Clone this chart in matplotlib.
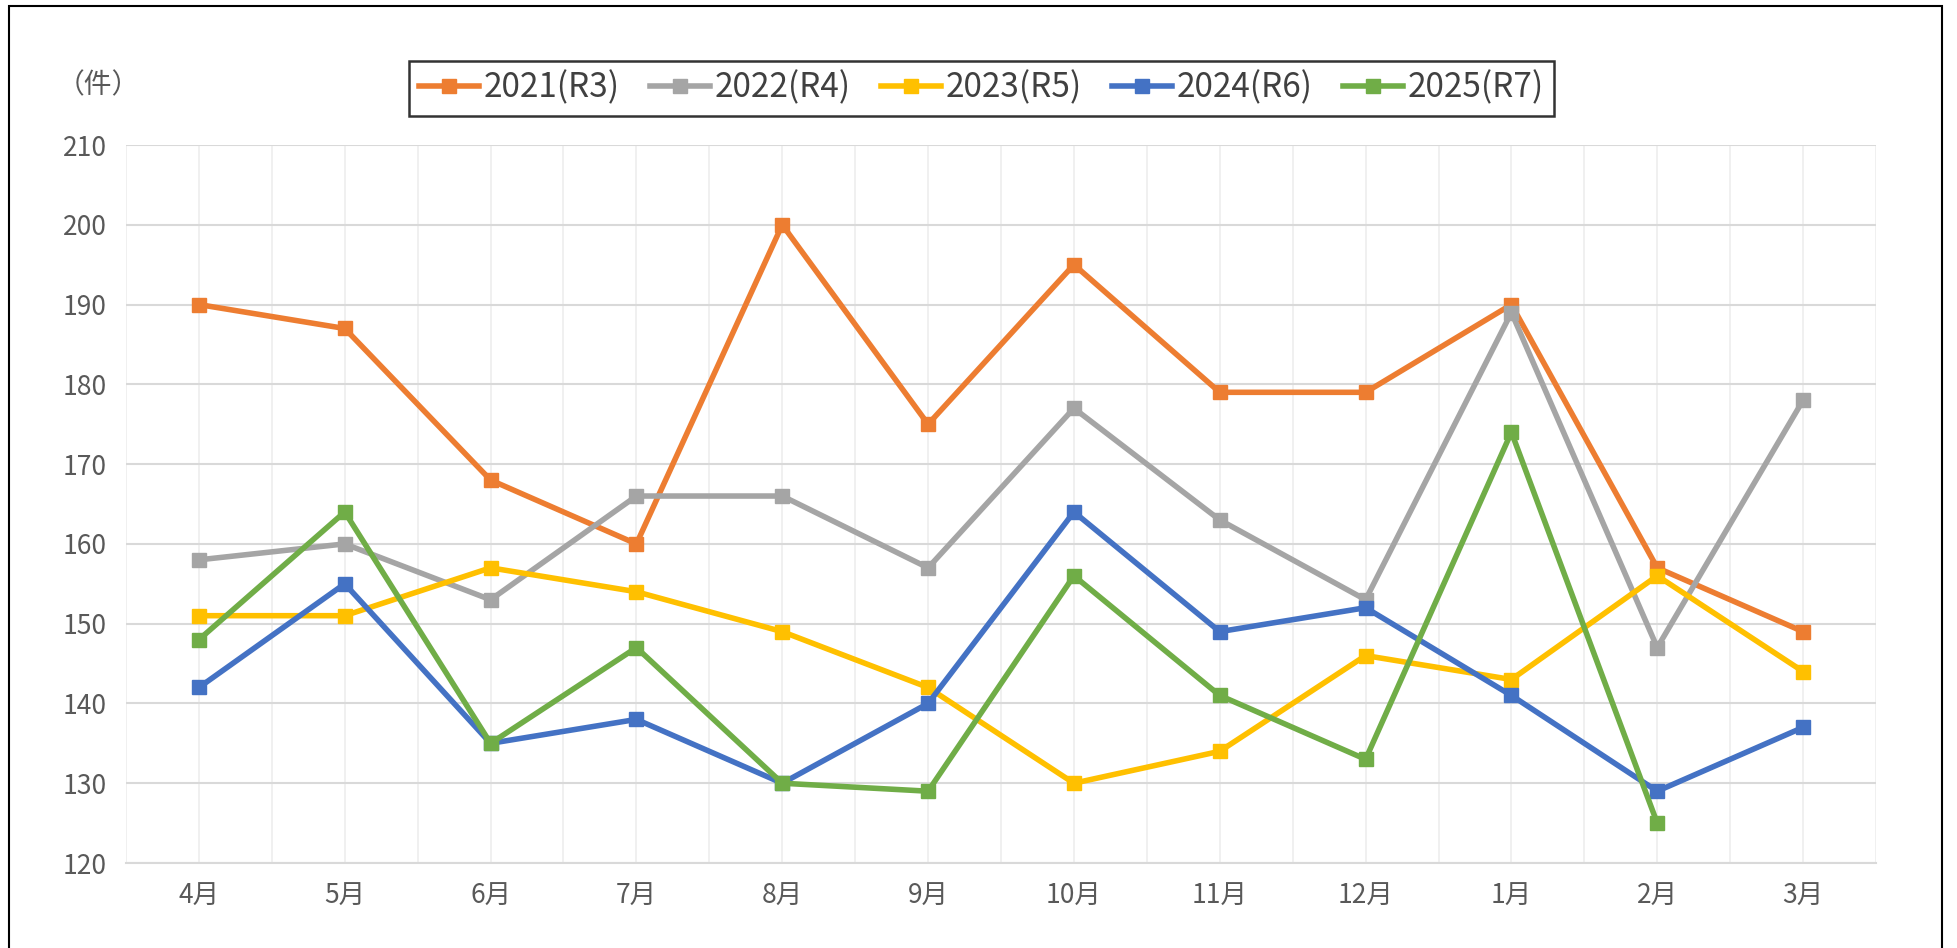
import matplotlib
matplotlib.use('Agg')
import matplotlib.pyplot as plt
from matplotlib.patches import Rectangle

plt.rcParams['font.family'] = ['Noto Sans CJK JP', 'DejaVu Sans']

# 月別件数
months = ['4月', '5月', '6月', '7月', '8月', '9月', '10月', '11月', '12月', '1月', '2月', '3月']
labels = ['2021(R3)', '2022(R4)', '2023(R5)', '2024(R6)', '2025(R7)']
colors = ['#ED7D31', '#A5A5A5', '#FFC000', '#4472C4', '#70AD47']

v2021 = [190, 187, 168, 160, 200, 175, 195, 179, 179, 190, 157, 149]
v2022 = [158, 160, 153, 166, 166, 157, 177, 163, 153, 189, 147, 178]
v2023 = [151, 151, 157, 154, 149, 142, 130, 134, 146, 143, 156, 144]
v2024 = [142, 155, 135, 138, 130, 140, 164, 149, 152, 141, 129, 137]
v2025 = [148, 164, 135, 147, 130, 129, 156, 141, 133, 174, 125]

series = [v2021, v2022, v2023, v2024, v2025]

W, H = 1958, 948
fig = plt.figure(figsize=(W / 100, H / 100), dpi=100)
ax = fig.add_axes([126 / W, 1 - 863 / H, (1876 - 126) / W, (863 - 145) / H])

for vals, lab, col in zip(series, labels, colors):
    ax.plot(range(len(vals)), vals, color=col, lw=4, marker='s', ms=10,
            label=lab, solid_joinstyle='miter')

ax.set_xlim(-0.5, 11.5)
ax.set_ylim(120, 210)
ax.set_yticks(range(120, 211, 10))
ax.set_xticks(range(12))
ax.set_xticklabels(months)
ax.set_xticks([i - 0.5 for i in range(13)], minor=True)

ax.grid(axis='y', color='#d9d9d9', lw=1.5)
ax.grid(axis='x', which='both', color='#efefef', lw=1.3)
ax.set_axisbelow(True)
for s in ['top', 'right', 'left']:
    ax.spines[s].set_visible(False)
ax.spines['bottom'].set_color('#d9d9d9')
ax.spines['bottom'].set_linewidth(1.5)

ax.tick_params(axis='both', which='both', length=0, labelcolor='#595959', labelsize=19)
ax.tick_params(axis='y', pad=14)
ax.tick_params(axis='x', pad=14)

fig.text(98 / W, 1 - 85 / H, '（件）', ha='center', va='center', fontsize=20, color='#595959')

leg = fig.legend(loc='center', bbox_to_anchor=((406 + 1557) / 2 / W, 1 - 88 / H),
                 ncol=5, fontsize=24, frameon=True, fancybox=False,
                 handlelength=1.8, handletextpad=0.15, columnspacing=0.9,
                 borderpad=0.3, labelcolor='#404040')
leg.get_frame().set_edgecolor('black')
leg.get_frame().set_linewidth(1.8)

# 外枠
fig.patches.append(Rectangle((9 / W, -0.05), (1942 - 9) / W, 1.05 - 6 / H,
                             transform=fig.transFigure, fill=False,
                             edgecolor='black', lw=1.5))

fig.savefig('out.png', dpi=100)
